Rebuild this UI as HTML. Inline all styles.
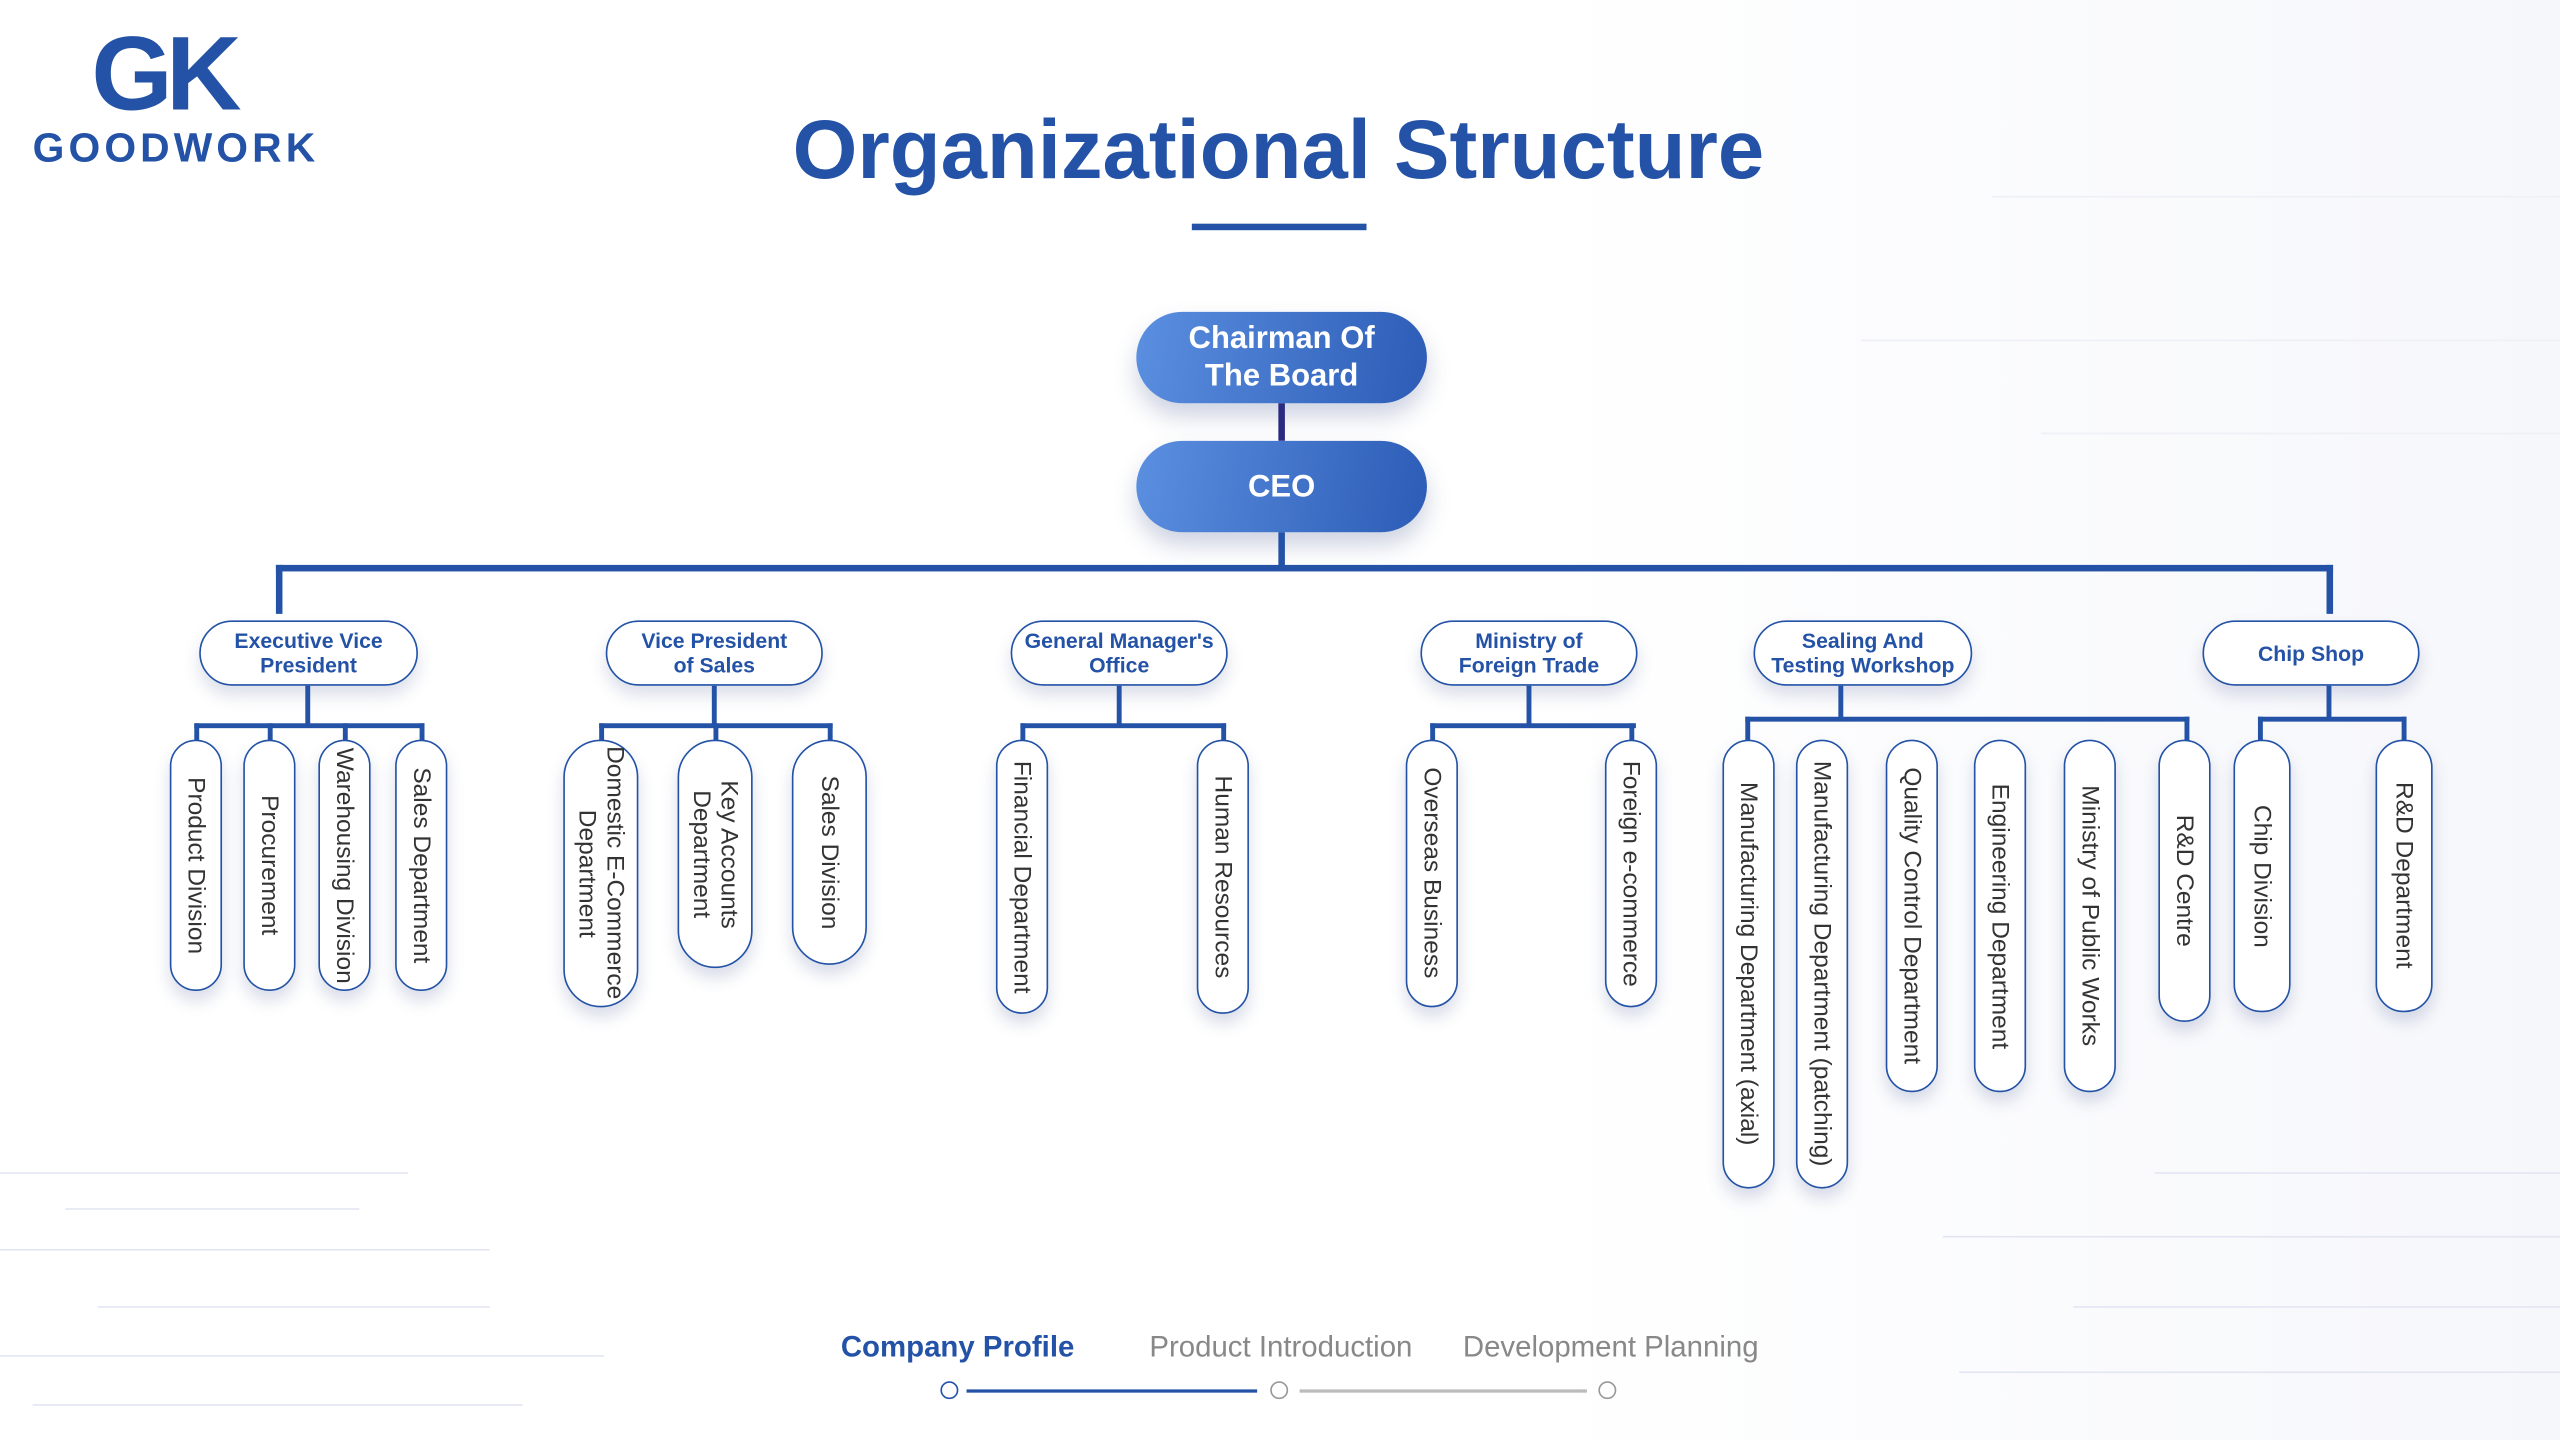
<!DOCTYPE html>
<html><head><meta charset="utf-8"><style>
html,body{margin:0;padding:0;width:2560px;height:1440px;overflow:hidden;background:#fff;}
#s{position:absolute;left:0;top:0;width:1568px;height:882px;transform:scale(1.632653);transform-origin:0 0;font-family:"Liberation Sans",Arial,sans-serif;background:linear-gradient(90deg,#fff 0%,#fff 60%,#f6f7fb 100%);}
.a{position:absolute;}
.ln{position:absolute;background:#2352a6;}
.top{position:absolute;border-radius:28px;background:linear-gradient(100deg,#5b8fe0,#2c5cb6);color:#fff;font-weight:bold;font-size:19px;line-height:23px;display:flex;align-items:center;justify-content:center;text-align:center;box-shadow:0 8px 14px rgba(60,80,140,.25);}
.l2{position:absolute;height:40px;border:1.6px solid #2352a6;border-radius:22px;background:#fff;color:#2352a6;font-weight:bold;font-size:13px;line-height:15px;display:flex;align-items:center;justify-content:center;text-align:center;box-shadow:0 6px 10px rgba(60,80,140,.18);box-sizing:border-box;}
.c{position:absolute;top:453px;border:1.8px solid #2352a6;border-radius:17px;background:#fff;box-sizing:border-box;display:flex;align-items:center;justify-content:center;box-shadow:0 6px 10px rgba(60,80,140,.2);}
.c span{writing-mode:vertical-rl;font-size:15px;line-height:17px;color:#333;white-space:nowrap;text-align:center;}
.bg{position:absolute;background:#e3e6f2;height:1px;}
</style></head><body><div id="s">
<div class="bg" style="left:0;top:718px;width:250px"></div>
<div class="bg" style="left:40px;top:740px;width:180px"></div>
<div class="bg" style="left:0;top:765px;width:300px"></div>
<div class="bg" style="left:60px;top:800px;width:240px"></div>
<div class="bg" style="left:0;top:830px;width:370px"></div>
<div class="bg" style="left:20px;top:860px;width:300px"></div>
<div class="bg" style="left:1320px;top:718px;width:248px"></div>
<div class="bg" style="left:1190px;top:757px;width:378px"></div>
<div class="bg" style="left:1270px;top:800px;width:298px"></div>
<div class="bg" style="left:1200px;top:840px;width:368px"></div>
<div class="bg" style="left:1220px;top:120px;width:348px;background:#eef0f6"></div>
<div class="bg" style="left:1140px;top:208px;width:428px;background:#eef0f6"></div>
<div class="bg" style="left:1250px;top:265px;width:318px;background:#eef0f6"></div>

<div class="a" style="left:56px;top:10px;font-size:64px;font-weight:900;color:#2352a6;letter-spacing:-4px;line-height:70px;">GK</div>
<div class="a" style="left:20px;top:76px;font-size:25px;font-weight:900;color:#2352a6;letter-spacing:2.5px;line-height:30px;">GOODWORK</div>

<div class="a" style="left:0;width:1566px;top:60px;text-align:center;font-size:51px;font-weight:bold;color:#2352a6;line-height:64px;">Organizational Structure</div>
<div class="ln" style="left:730px;top:137px;width:107px;height:4px;"></div>

<div class="top" style="left:696px;top:191px;width:178px;height:56px;">Chairman Of<br>The Board</div>
<div class="ln" style="left:783px;top:247px;width:4px;height:23px;background:#2a2a80"></div>
<div class="top" style="left:696px;top:270px;width:178px;height:56px;">CEO</div>
<div class="ln" style="left:783px;top:326px;width:4px;height:22px;"></div>
<div class="ln" style="left:169px;top:346px;width:1260px;height:4px;"></div>
<div class="ln" style="left:169px;top:346px;width:4px;height:30px;"></div>
<div class="ln" style="left:1425px;top:346px;width:4px;height:30px;"></div>

<div class="l2" style="left:122px;top:380px;width:134px;">Executive Vice<br>President</div>
<div class="l2" style="left:371px;top:380px;width:133px;">Vice President<br>of Sales</div>
<div class="l2" style="left:619px;top:380px;width:133px;">General Manager's<br>Office</div>
<div class="l2" style="left:870px;top:380px;width:133px;">Ministry of<br>Foreign Trade</div>
<div class="l2" style="left:1074px;top:380px;width:134px;">Sealing And<br>Testing Workshop</div>
<div class="l2" style="left:1349px;top:380px;width:133px;">Chip Shop</div>

<div class="ln" style="left:187px;top:420px;width:3px;height:25px;"></div>
<div class="ln" style="left:119px;top:443px;width:141px;height:3px;"></div>
<div class="ln" style="left:119px;top:443px;width:3px;height:12px;"></div><div class="ln" style="left:164px;top:443px;width:3px;height:12px;"></div><div class="ln" style="left:210px;top:443px;width:3px;height:12px;"></div><div class="ln" style="left:257px;top:443px;width:3px;height:12px;"></div>

<div class="ln" style="left:436px;top:420px;width:3px;height:25px;"></div>
<div class="ln" style="left:367px;top:443px;width:143px;height:3px;"></div>
<div class="ln" style="left:367px;top:443px;width:3px;height:12px;"></div><div class="ln" style="left:437px;top:443px;width:3px;height:12px;"></div><div class="ln" style="left:507px;top:443px;width:3px;height:12px;"></div>

<div class="ln" style="left:684px;top:420px;width:3px;height:25px;"></div>
<div class="ln" style="left:625px;top:443px;width:126px;height:3px;"></div>
<div class="ln" style="left:625px;top:443px;width:3px;height:12px;"></div><div class="ln" style="left:748px;top:443px;width:3px;height:12px;"></div>

<div class="ln" style="left:935px;top:420px;width:3px;height:25px;"></div>
<div class="ln" style="left:876px;top:443px;width:126px;height:3px;"></div>
<div class="ln" style="left:876px;top:443px;width:3px;height:12px;"></div><div class="ln" style="left:998px;top:443px;width:3px;height:12px;"></div>

<div class="ln" style="left:1126px;top:420px;width:3px;height:21px;"></div>
<div class="ln" style="left:1069px;top:439px;width:272px;height:3px;"></div>
<div class="ln" style="left:1069px;top:439px;width:3px;height:16px;"></div><div class="ln" style="left:1338px;top:439px;width:3px;height:16px;"></div>

<div class="ln" style="left:1425px;top:420px;width:3px;height:21px;"></div>
<div class="ln" style="left:1383px;top:439px;width:91px;height:3px;"></div>
<div class="ln" style="left:1383px;top:439px;width:3px;height:16px;"></div><div class="ln" style="left:1471px;top:439px;width:3px;height:16px;"></div>

<div class="c" style="left:104px;width:32px;height:154px;"><span>Product Division</span></div>
<div class="c" style="left:149px;width:32px;height:154px;"><span>Procurement</span></div>
<div class="c" style="left:195px;width:32px;height:154px;"><span>Warehousing Division</span></div>
<div class="c" style="left:242px;width:32px;height:154px;"><span>Sales Department</span></div>

<div class="c" style="left:345px;width:46px;height:164px;border-radius:23px;"><span>Domestic E-Commerce<br>Department</span></div>
<div class="c" style="left:415px;width:46px;height:140px;border-radius:23px;"><span>Key Accounts<br>Department</span></div>
<div class="c" style="left:485px;width:46px;height:138px;border-radius:23px;"><span>Sales Division</span></div>

<div class="c" style="left:610px;width:32px;height:168px;"><span>Financial Department</span></div>
<div class="c" style="left:733px;width:32px;height:168px;"><span>Human Resources</span></div>

<div class="c" style="left:861px;width:32px;height:164px;"><span>Overseas Business</span></div>
<div class="c" style="left:983px;width:32px;height:164px;"><span>Foreign e-commerce</span></div>

<div class="c" style="left:1055px;width:32px;height:275px;"><span>Manufacturing Department (axial)</span></div>
<div class="c" style="left:1100px;width:32px;height:275px;"><span>Manufacturing Department (patching)</span></div>
<div class="c" style="left:1155px;width:32px;height:216px;"><span>Quality Control Department</span></div>
<div class="c" style="left:1209px;width:32px;height:216px;"><span>Engineering Department</span></div>
<div class="c" style="left:1264px;width:32px;height:216px;"><span>Ministry of Public Works</span></div>
<div class="c" style="left:1322px;width:32px;height:173px;"><span>R&amp;D Centre</span></div>
<div class="c" style="left:1368px;width:35px;height:167px;"><span>Chip Division</span></div>
<div class="c" style="left:1455px;width:35px;height:167px;"><span>R&amp;D Department</span></div>

<div class="a" style="left:515px;top:814px;font-size:18px;font-weight:bold;color:#2352a6;line-height:22px;">Company Profile</div>
<div class="a" style="left:704px;top:814px;font-size:18px;color:#888;line-height:22px;">Product Introduction</div>
<div class="a" style="left:896px;top:814px;font-size:18px;color:#888;line-height:22px;">Development Planning</div>
<div class="a" style="left:592px;top:851px;width:178px;height:2px;background:#2352a6"></div>
<div class="a" style="left:796px;top:851px;width:176px;height:2px;background:#bbb"></div>
<div class="a" style="left:576px;top:846px;width:9px;height:9px;border:1.6px solid #2352a6;border-radius:50%;background:#fff"></div>
<div class="a" style="left:778px;top:846px;width:9px;height:9px;border:1.6px solid #999;border-radius:50%;background:#fff"></div>
<div class="a" style="left:979px;top:846px;width:9px;height:9px;border:1.6px solid #999;border-radius:50%;background:#fff"></div>
</div></body></html>
